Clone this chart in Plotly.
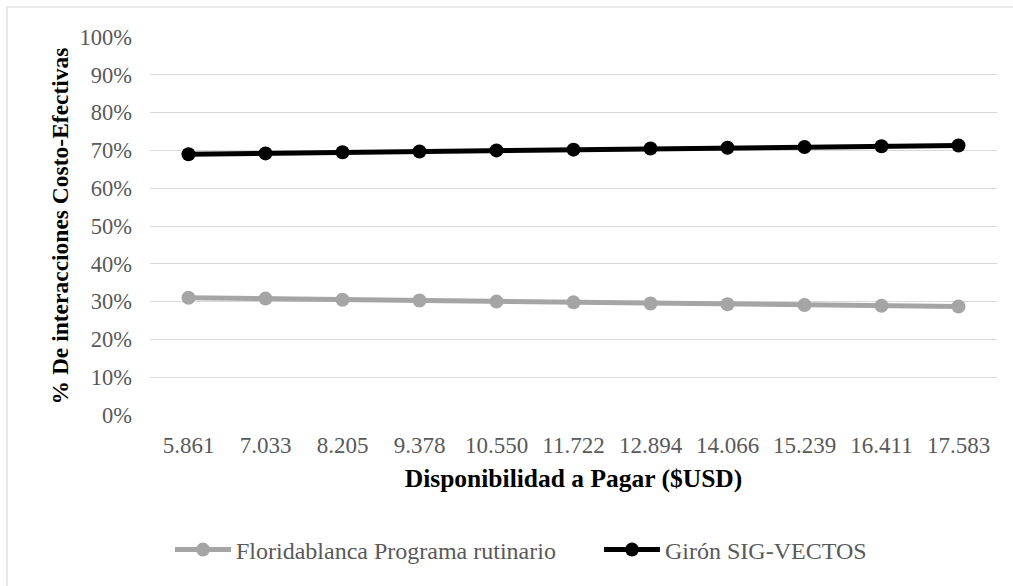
import plotly.graph_objects as go

# Willingness-to-pay thresholds (USD) shown on the category axis
wtp_labels = ["5.861", "7.033", "8.205", "9.378", "10.550", "11.722",
              "12.894", "14.066", "15.239", "16.411", "17.583"]

# Share of cost-effective iterations per strategy
floridablanca = [0.310, 0.308, 0.305, 0.303, 0.300, 0.298,
                 0.295, 0.293, 0.291, 0.289, 0.287]
giron = [0.690, 0.692, 0.695, 0.697, 0.700, 0.702,
         0.705, 0.707, 0.709, 0.711, 0.713]

series_names = ["Floridablanca Programa rutinario", "Girón SIG-VECTOS"]
y_ticks = [i / 10 for i in range(11)]

FONT = "Liberation Serif, Times New Roman, serif"
W, H = 1013, 586
L, R, T, B = 150, 16, 37, 171
pw, ph = W - L - R, H - T - B


def px_to_paper(x, y):
    return (x - L) / pw, (H - B - y) / ph


fig = go.Figure()
fig.add_trace(go.Scatter(
    x=wtp_labels, y=floridablanca, name=series_names[0],
    mode="lines+markers", legend="legend",
    line=dict(color="#a5a5a5", width=5),
    marker=dict(color="#a5a5a5", size=14),
))
fig.add_trace(go.Scatter(
    x=wtp_labels, y=giron, name=series_names[1],
    mode="lines+markers", legend="legend2",
    line=dict(color="#000000", width=5),
    marker=dict(color="#000000", size=14),
))

# light frame around the chart area (top and left edges)
x0, y0 = px_to_paper(7, 7)
x1, y1 = px_to_paper(W + 20, H + 20)
fig.add_shape(type="rect", xref="paper", yref="paper",
              x0=x0, y0=y1, x1=x1, y1=y0,
              line=dict(color="#d9d9d9", width=1.2), layer="below")

legend_style = dict(
    orientation="h", xanchor="left", yanchor="middle",
    font=dict(family=FONT, size=24, color="#595959"),
    itemwidth=56, bgcolor="rgba(0,0,0,0)",
)
leg_y = px_to_paper(0, 550)[1]

fig.update_layout(
    width=W, height=H,
    margin=dict(l=L, r=R, t=T, b=B),
    paper_bgcolor="white", plot_bgcolor="white",
    font=dict(family=FONT, size=23, color="#595959"),
    showlegend=True,
    legend=dict(x=px_to_paper(170, 0)[0], y=leg_y, **legend_style),
    legend2=dict(x=px_to_paper(599, 0)[0], y=leg_y, **legend_style),
    xaxis=dict(
        type="category", range=[-0.5, 10.5],
        showgrid=False, showline=False, ticks="",
        tickfont=dict(family=FONT, size=23, color="#595959"),
        ticklabelstandoff=14,
        title=dict(text="<b>Disponibilidad a Pagar ($USD)</b>",
                   font=dict(family=FONT, size=25.5, color="#000000"),
                   standoff=12),
    ),
    yaxis=dict(
        range=[0, 1], tickvals=y_ticks, tickformat=".0%",
        showgrid=True, gridcolor="#d9d9d9", gridwidth=1.2,
        zeroline=False, showline=False, ticks="",
        tickfont=dict(family=FONT, size=22.5, color="#595959"),
        ticklabelstandoff=17,
        title=dict(text="<b>% De interacciones Costo-Efectivas</b>",
                   font=dict(family=FONT, size=23.5, color="#000000"),
                   standoff=4),
    ),
)

fig.write_html("out.html")
